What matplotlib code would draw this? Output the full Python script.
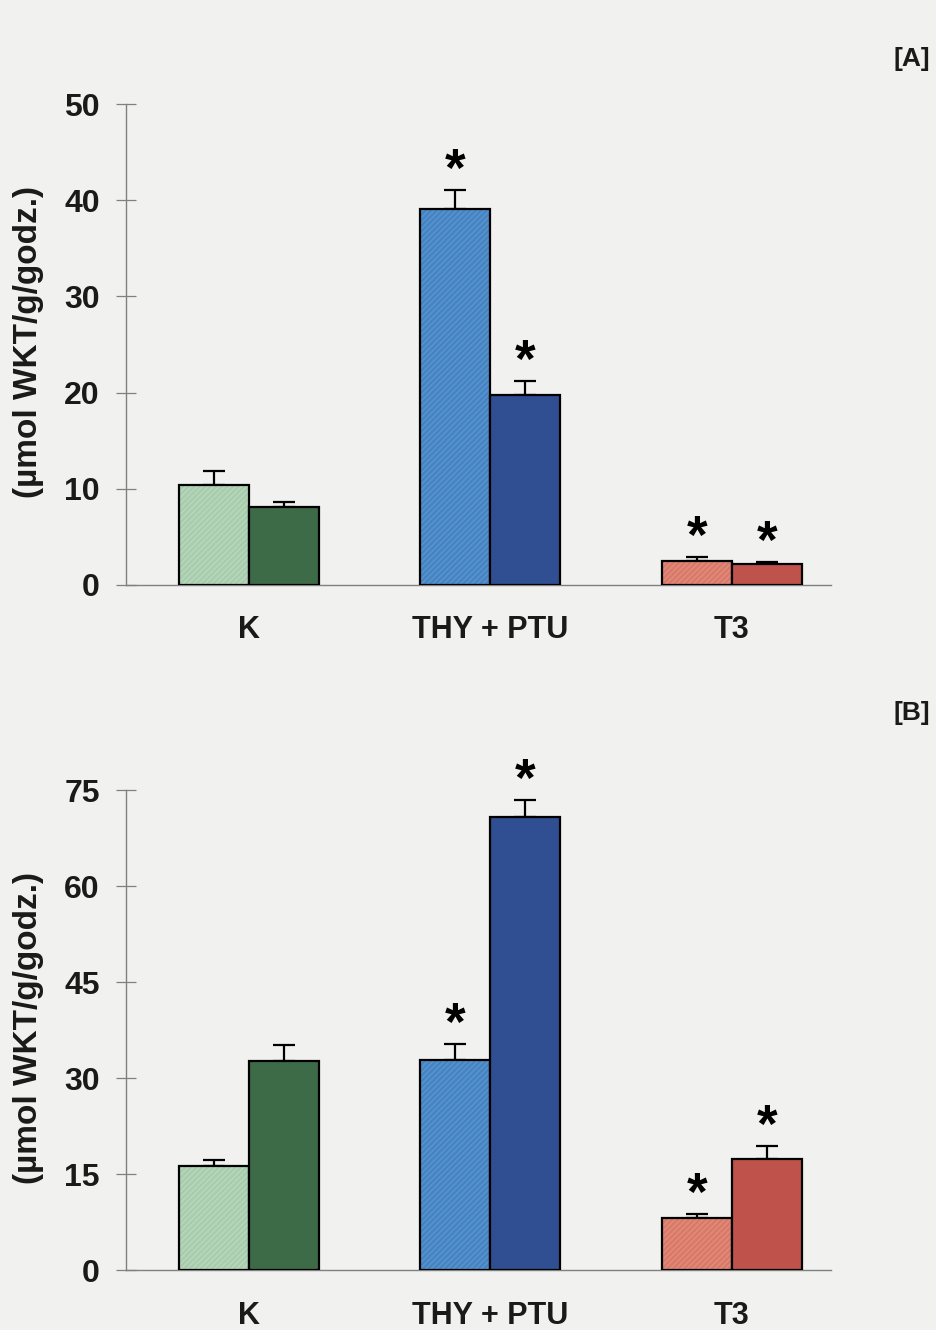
import matplotlib
matplotlib.use("Agg")
import matplotlib.pyplot as plt
import numpy as np

plt.rcParams['font.family'] = ['Liberation Sans', 'DejaVu Sans']
plt.rcParams['font.weight'] = 'bold'
plt.rcParams['hatch.linewidth'] = 1.0

groups = ['K', 'THY + PTU', 'T3']

# panel A
a_light = [10.4, 39.1, 2.5]
a_light_err = [1.4, 2.0, 0.4]
a_dark = [8.1, 19.7, 2.2]
a_dark_err = [0.5, 1.5, 0.2]
a_star_light = [False, True, True]
a_star_dark = [False, True, True]

# panel B
b_light = [16.3, 32.8, 8.2]
b_light_err = [0.9, 2.5, 0.6]
b_dark = [32.7, 70.8, 17.3]
b_dark_err = [2.4, 2.7, 2.0]
b_star_light = [False, True, True]
b_star_dark = [False, True, True]

light_cols = ['#a6ccb2', '#4683c2', '#d9796a']
light_hatch = ['#bcd8b4', '#5a95cf', '#e38d7c']
dark_cols = ['#3d6a47', '#2f4f92', '#c0524c']

bg = '#f1f1ef'
ylabel = '(µmol WKT/g/godz.)'

fig = plt.figure(figsize=(9.37, 13.3), dpi=100, facecolor=bg)
ax1 = fig.add_axes([0.1345, 0.5602, 0.752, 0.3616])
ax2 = fig.add_axes([0.1345, 0.0451, 0.752, 0.3609])

w = 0.29
x = np.arange(len(groups))


def draw(ax, light, light_err, dark, dark_err, st_l, st_d, ymax, step):
    ax.set_facecolor('none')
    xl = x - w / 2
    xd = x + w / 2
    # hatched fill for light bars
    ax.bar(xl, light, w, color=light_cols, edgecolor=light_hatch, hatch='//////', linewidth=0, zorder=2)
    ax.bar(xl, light, w, color='none', edgecolor='black', linewidth=1.6, zorder=3)
    ax.bar(xd, dark, w, color=dark_cols, edgecolor='black', linewidth=1.6, zorder=3)
    ax.errorbar(xl, light, yerr=[np.zeros(3), light_err], fmt='none', ecolor='black',
                elinewidth=1.6, capsize=8, capthick=1.6, zorder=1)
    ax.errorbar(xd, dark, yerr=[np.zeros(3), dark_err], fmt='none', ecolor='black',
                elinewidth=1.6, capsize=8, capthick=1.6, zorder=1)
    for i in range(len(groups)):
        if st_l[i]:
            ax.annotate('*', (xl[i], light[i] + light_err[i]), xytext=(0, -5), textcoords='offset points',
                        ha='center', va='bottom', fontsize=38, fontweight='bold')
        if st_d[i]:
            ax.annotate('*', (xd[i], dark[i] + dark_err[i]), xytext=(0, -5), textcoords='offset points',
                        ha='center', va='bottom', fontsize=38, fontweight='bold')
    ax.set_xlim(-0.51, 2.41)
    ax.set_ylim(0, ymax)
    ax.set_yticks(np.arange(0, ymax + 1, step))
    ax.set_xticks(x)
    ax.set_xticklabels(groups, fontsize=22, fontweight='bold', color='#1a1a1a')
    ax.tick_params(axis='x', length=0, pad=22)
    ax.tick_params(axis='y', direction='inout', length=14, width=0.9, color='#808080',
                   labelsize=23, labelcolor='#1a1a1a', pad=12)
    for lab in ax.get_yticklabels():
        lab.set_fontweight('bold')
    for s in ['top', 'right']:
        ax.spines[s].set_visible(False)
    for s in ['left', 'bottom']:
        ax.spines[s].set_color('#808080')
        ax.spines[s].set_linewidth(1.0)
    ax.set_ylabel(ylabel, fontsize=24, fontweight='bold', color='#1a1a1a')
    ax.yaxis.set_label_coords(-0.117, 0.505)


draw(ax1, a_light, a_light_err, a_dark, a_dark_err, a_star_light, a_star_dark, 50, 10)
draw(ax2, b_light, b_light_err, b_dark, b_dark_err, b_star_light, b_star_dark, 75, 15)

fig.text(0.973, 0.956, '[A]', fontsize=19, fontweight='bold', ha='center', va='center', color='#1a1a1a')
fig.text(0.973, 0.464, '[B]', fontsize=19, fontweight='bold', ha='center', va='center', color='#1a1a1a')

fig.savefig('out.png', dpi=100, facecolor=bg)
